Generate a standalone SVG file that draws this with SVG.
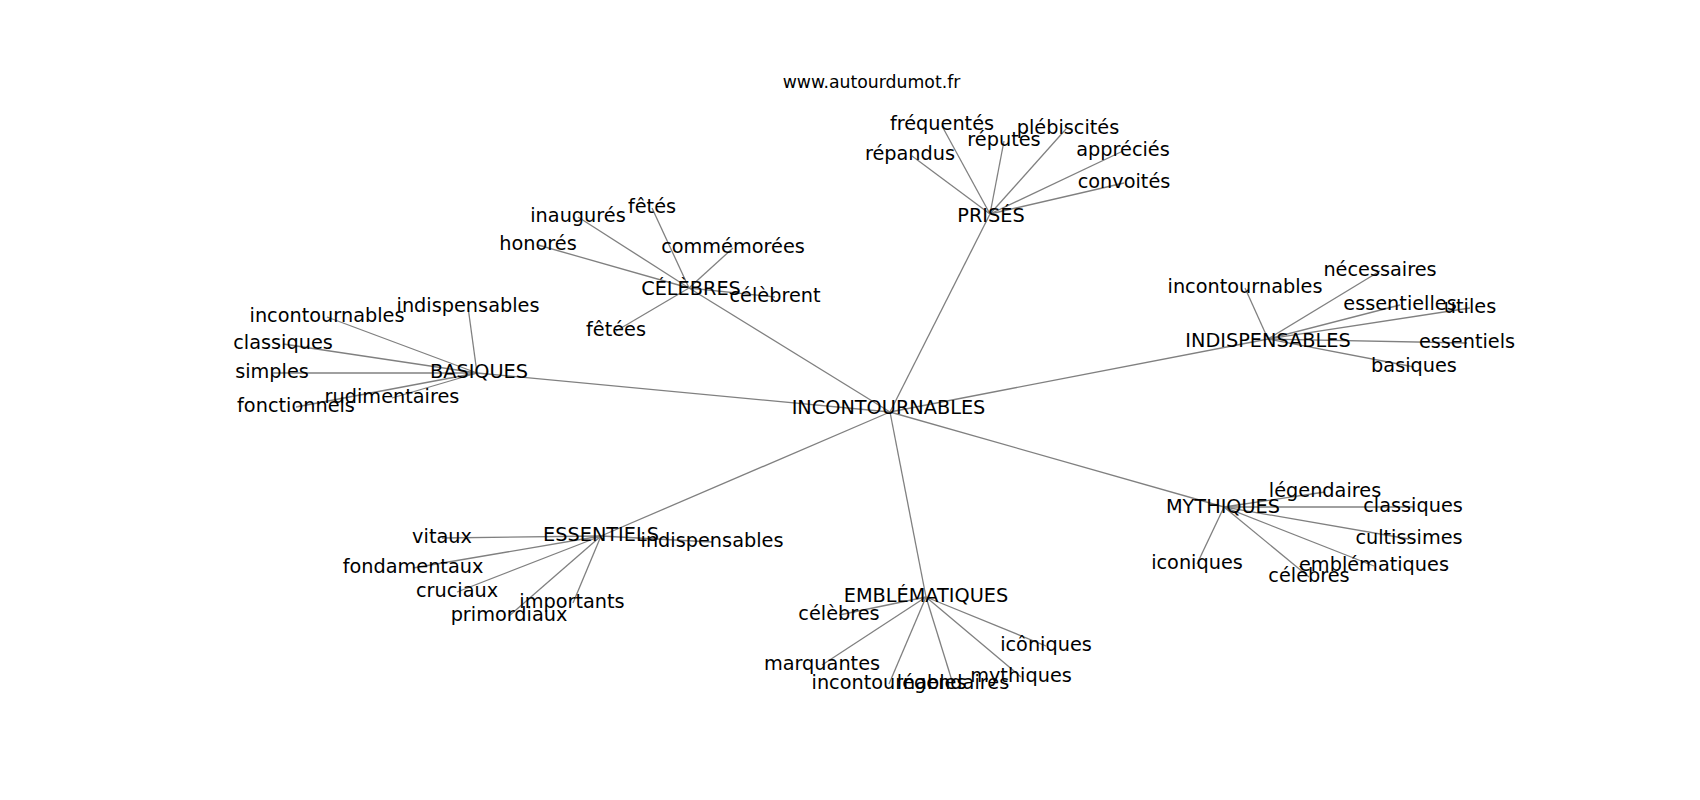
<svg xmlns="http://www.w3.org/2000/svg" width="1700" height="800" viewBox="0 0 1700 800">
<style>
text{font-family:"DejaVu Sans","Liberation Sans",sans-serif;font-size:19.3px;fill:#000;text-anchor:middle}
.title{font-size:17.3px}
#edges line{stroke:#808080;stroke-width:1.3}
</style>
<rect width="1700" height="800" fill="#fff"/>
<g id="edges">
<line x1="890" y1="412" x2="990" y2="214"/>
<line x1="890" y1="412" x2="689" y2="288"/>
<line x1="890" y1="412" x2="477" y2="373"/>
<line x1="890" y1="412" x2="1268" y2="339"/>
<line x1="890" y1="412" x2="1224" y2="507"/>
<line x1="890" y1="412" x2="926" y2="597"/>
<line x1="890" y1="412" x2="601" y2="536"/>
<line x1="990" y1="214" x2="912" y2="156"/>
<line x1="990" y1="214" x2="942" y2="126"/>
<line x1="990" y1="214" x2="1004" y2="141"/>
<line x1="990" y1="214" x2="1066" y2="129"/>
<line x1="990" y1="214" x2="1123" y2="151"/>
<line x1="990" y1="214" x2="1124" y2="183"/>
<line x1="689" y1="288" x2="578" y2="217"/>
<line x1="689" y1="288" x2="652" y2="208"/>
<line x1="689" y1="288" x2="538" y2="245"/>
<line x1="689" y1="288" x2="733" y2="248"/>
<line x1="689" y1="288" x2="775" y2="297"/>
<line x1="689" y1="288" x2="616" y2="331"/>
<line x1="477" y1="373" x2="468" y2="307"/>
<line x1="477" y1="373" x2="327" y2="317"/>
<line x1="477" y1="373" x2="283" y2="344"/>
<line x1="477" y1="373" x2="272" y2="373"/>
<line x1="477" y1="373" x2="392" y2="398"/>
<line x1="477" y1="373" x2="296" y2="407"/>
<line x1="1268" y1="339" x2="1380" y2="271"/>
<line x1="1268" y1="339" x2="1245" y2="288"/>
<line x1="1268" y1="339" x2="1400" y2="305"/>
<line x1="1268" y1="339" x2="1470" y2="308"/>
<line x1="1268" y1="339" x2="1467" y2="343"/>
<line x1="1268" y1="339" x2="1414" y2="367"/>
<line x1="1224" y1="507" x2="1325" y2="492"/>
<line x1="1224" y1="507" x2="1413" y2="507"/>
<line x1="1224" y1="507" x2="1409" y2="539"/>
<line x1="1224" y1="507" x2="1197" y2="564"/>
<line x1="1224" y1="507" x2="1374" y2="566"/>
<line x1="1224" y1="507" x2="1309" y2="577"/>
<line x1="601" y1="536" x2="442" y2="538"/>
<line x1="601" y1="536" x2="712" y2="542"/>
<line x1="601" y1="536" x2="413" y2="568"/>
<line x1="601" y1="536" x2="457" y2="592"/>
<line x1="601" y1="536" x2="573" y2="603"/>
<line x1="601" y1="536" x2="509" y2="616"/>
<line x1="926" y1="597" x2="839" y2="615"/>
<line x1="926" y1="597" x2="1046" y2="646"/>
<line x1="926" y1="597" x2="822" y2="665"/>
<line x1="926" y1="597" x2="1021" y2="677"/>
<line x1="926" y1="597" x2="889" y2="684"/>
<line x1="926" y1="597" x2="953" y2="684"/>
</g>
<g id="title"><text class="title" x="871.5" y="88">www.autourdumot.fr</text></g>
<g id="n-incontournables"><text x="888.5" y="414">INCONTOURNABLES</text></g>
<g id="n-prises"><text x="991" y="222">PRISÉS</text></g>
<g id="n-prises-repandus"><text x="910" y="160">répandus</text></g>
<g id="n-prises-frequentes"><text x="942" y="130">fréquentés</text></g>
<g id="n-prises-reputes"><text x="1004" y="146">réputés</text></g>
<g id="n-prises-plebiscites"><text x="1068" y="134">plébiscités</text></g>
<g id="n-prises-apprecies"><text x="1123" y="156">appréciés</text></g>
<g id="n-prises-convoites"><text x="1124" y="188">convoités</text></g>
<g id="n-celebres"><text x="691" y="295">CÉLÈBRES</text></g>
<g id="n-celebres-inaugures"><text x="578" y="222">inaugurés</text></g>
<g id="n-celebres-fetes"><text x="652" y="213">fêtés</text></g>
<g id="n-celebres-honores"><text x="538" y="250">honorés</text></g>
<g id="n-celebres-commemorees"><text x="733" y="253">commémorées</text></g>
<g id="n-celebres-celebrent"><text x="775" y="302">célèbrent</text></g>
<g id="n-celebres-fetees"><text x="616" y="336">fêtées</text></g>
<g id="n-basiques"><text x="479" y="378">BASIQUES</text></g>
<g id="n-basiques-indispensables"><text x="468" y="312">indispensables</text></g>
<g id="n-basiques-incontournables"><text x="327" y="322">incontournables</text></g>
<g id="n-basiques-classiques"><text x="283" y="349">classiques</text></g>
<g id="n-basiques-simples"><text x="272" y="378">simples</text></g>
<g id="n-basiques-rudimentaires"><text x="392" y="403">rudimentaires</text></g>
<g id="n-basiques-fonctionnels"><text x="296" y="412">fonctionnels</text></g>
<g id="n-indispensables"><text x="1268" y="347">INDISPENSABLES</text></g>
<g id="n-indisp-necessaires"><text x="1380" y="276">nécessaires</text></g>
<g id="n-indisp-incontournables"><text x="1245" y="293">incontournables</text></g>
<g id="n-indisp-essentielles"><text x="1400" y="310">essentielles</text></g>
<g id="n-indisp-utiles"><text x="1470" y="313">utiles</text></g>
<g id="n-indisp-essentiels"><text x="1467" y="348">essentiels</text></g>
<g id="n-indisp-basiques"><text x="1414" y="372">basiques</text></g>
<g id="n-mythiques"><text x="1223" y="513">MYTHIQUES</text></g>
<g id="n-myth-legendaires"><text x="1325" y="497">légendaires</text></g>
<g id="n-myth-classiques"><text x="1413" y="512">classiques</text></g>
<g id="n-myth-cultissimes"><text x="1409" y="544">cultissimes</text></g>
<g id="n-myth-iconiques"><text x="1197" y="569">iconiques</text></g>
<g id="n-myth-emblematiques"><text x="1374" y="571">emblématiques</text></g>
<g id="n-myth-celebres"><text x="1309" y="582">célèbres</text></g>
<g id="n-essentiels"><text x="601" y="541">ESSENTIELS</text></g>
<g id="n-ess-vitaux"><text x="442" y="543">vitaux</text></g>
<g id="n-ess-indispensables"><text x="712" y="547">indispensables</text></g>
<g id="n-ess-fondamentaux"><text x="413" y="573">fondamentaux</text></g>
<g id="n-ess-cruciaux"><text x="457" y="597">cruciaux</text></g>
<g id="n-ess-importants"><text x="572" y="608">importants</text></g>
<g id="n-ess-primordiaux"><text x="509" y="621">primordiaux</text></g>
<g id="n-emblematiques"><text x="926" y="602">EMBLÉMATIQUES</text></g>
<g id="n-embl-celebres"><text x="839" y="620">célèbres</text></g>
<g id="n-embl-iconiques"><text x="1046" y="651">icôniques</text></g>
<g id="n-embl-marquantes"><text x="822" y="670">marquantes</text></g>
<g id="n-embl-mythiques"><text x="1021" y="682">mythiques</text></g>
<g id="n-embl-incontournables"><text x="889" y="689">incontournables</text></g>
<g id="n-embl-legendaires"><text x="953" y="689">légendaires</text></g>
</svg>
